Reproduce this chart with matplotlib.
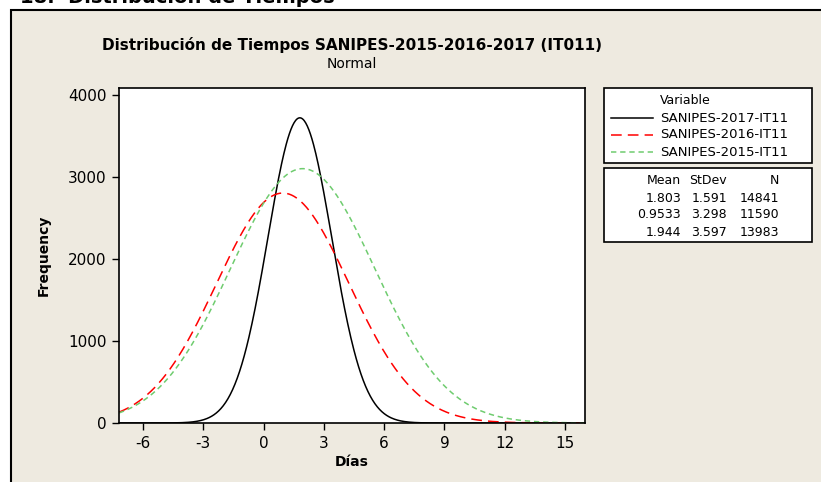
import numpy as np
import matplotlib
matplotlib.use("Agg")
import matplotlib.pyplot as plt
from matplotlib.patches import Rectangle
from matplotlib.lines import Line2D

plt.rcParams["axes.unicode_minus"] = False

# fitted normal parameters as printed in the chart's table
variables = ["SANIPES-2017-IT11", "SANIPES-2016-IT11", "SANIPES-2015-IT11"]
means = [1.803, 0.9533, 1.944]
stdevs = [1.591, 3.298, 3.597]
counts = [14841, 11590, 13983]
bin_widths = [1, 2, 2]  # histogram bin width Minitab used for each variable
mean_labels = ["1.803", "0.9533", "1.944"]
stdev_labels = ["1.591", "3.298", "3.597"]
n_labels = ["14841", "11590", "13983"]

x_ticks = [-6, -3, 0, 3, 6, 9, 12, 15]
y_ticks = [0, 1000, 2000, 3000, 4000]

colors = ["black", "#ff0000", "#6fcc6f"]
dashes = [None, (7, 4), (3.5, 2.5)]

W, H = 821, 482
BG = "#eeeae0"

fig = plt.figure(figsize=(W / 100, H / 100), dpi=100)
fig.patch.set_facecolor("white")


def fx(px):
    return px / W


def fy(py):
    return 1 - py / H


# beige panel with black border
fig.patches.append(Rectangle((fx(11), fy(H + 20)), 1.2, (H + 20 - 9.5) / H,
                             transform=fig.transFigure, facecolor=BG,
                             edgecolor="black", linewidth=1.5, zorder=-10))

# clipped heading above the panel
fig.text(fx(20), fy(3), "18.  Distribución de Tiempos", fontsize=14,
         fontweight="bold", ha="left", va="baseline", color="black")

ax = fig.add_axes([fx(119), fy(423), fx(585 - 119), (423 - 88) / H])
ax.set_zorder(2)
ax.set_facecolor("white")

x = np.linspace(-7.2, 16.0, 600)
for m, s, n, bw, c, d in zip(means, stdevs, counts, bin_widths, colors, dashes):
    y = n * bw * np.exp(-0.5 * ((x - m) / s) ** 2) / (s * np.sqrt(2 * np.pi))
    line, = ax.plot(x, y, color=c, linewidth=1.1)
    if d is not None:
        line.set_dashes(d)

ax.set_xlim(-7.2, 16.0)
ax.set_ylim(0, 4085)
ax.set_xticks(x_ticks)
ax.set_yticks(y_ticks)
ax.tick_params(direction="out", length=5, width=1, labelsize=11, pad=4)
for sp in ax.spines.values():
    sp.set_linewidth(1.2)
ax.set_xlabel("Días", fontsize=10, fontweight="bold", labelpad=3)
ax.set_ylabel("Frequency", fontsize=10, fontweight="bold", labelpad=12)

fig.text(fx(352), fy(45), "Distribución de Tiempos SANIPES-2015-2016-2017 (IT011)",
         fontsize=11, fontweight="bold", ha="center", va="center")
fig.text(fx(352), fy(64), "Normal", fontsize=10, ha="center", va="center")

# legend box
fig.patches.append(Rectangle((fx(604), fy(163)), fx(812 - 604), (163 - 88) / H,
                             transform=fig.transFigure, facecolor="white",
                             edgecolor="black", linewidth=1.2))
fig.text(fx(660), fy(100), "Variable", fontsize=9, ha="left", va="center")
for i, (v, c, d) in enumerate(zip(variables, colors, dashes)):
    yy = fy([118, 135, 152][i])
    ln = Line2D([fx(611), fx(653)], [yy, yy], transform=fig.transFigure,
                color=c, linewidth=1.1)
    if d is not None:
        ln.set_dashes(d)
    fig.lines.append(ln)
    fig.text(fx(660), yy, v, fontsize=9.5, ha="left", va="center")

# statistics table box
fig.patches.append(Rectangle((fx(604), fy(242)), fx(812 - 604), (242 - 168) / H,
                             transform=fig.transFigure, facecolor="white",
                             edgecolor="black", linewidth=1.2))
col_x = [681, 727, 779]
for cx, head in zip(col_x, ["Mean", "StDev", "N"]):
    fig.text(fx(cx), fy(181), head, fontsize=9, ha="right", va="center")
for i in range(3):
    yy = fy([198, 215, 232][i])
    for cx, val in zip(col_x, [mean_labels[i], stdev_labels[i], n_labels[i]]):
        fig.text(fx(cx), yy, val, fontsize=9, ha="right", va="center")

fig.savefig("out.png", dpi=100, facecolor=fig.get_facecolor())
